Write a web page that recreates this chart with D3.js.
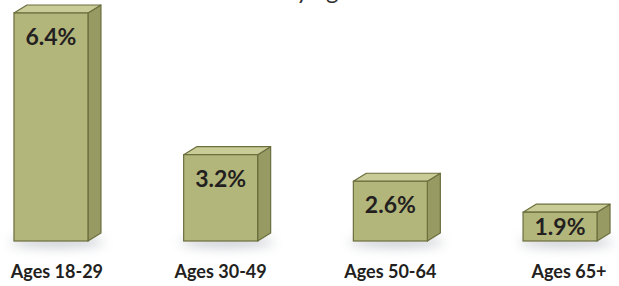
<!DOCTYPE html>
<html>
<head>
<meta charset="utf-8">
<script src="https://cdn.jsdelivr.net/npm/d3@7"></script>
<style>
  body { margin: 0; background: #fff; }
  text { font-family: Lato, "Open Sans", sans-serif; }
</style>
</head>
<body>
<div id="chart"></div>
<script>
var categories = ["Ages 18-29", "Ages 30-49", "Ages 50-64", "Ages 65+"];
var values = [6.4, 3.2, 2.6, 1.9];
var valueLabels = ["6.4%", "3.2%", "2.6%", "1.9%"];
var title = "by age";

var width = 619, height = 286;
var depthX = 13, depthY = 8;

var svg = d3.select('#chart')
  .append('svg')
  .attr('width', width)
  .attr('height', height);

var defs = svg.append('defs');
defs.append('filter')
  .attr('id', 'blur')
  .attr('x', '-50%').attr('y', '-200%')
  .attr('width', '200%').attr('height', '500%')
  .append('feGaussianBlur')
  .attr('stdDeviation', 6);

// title is cropped off in the source, only descenders show
svg.append('text')
  .attr('x', 283)
  .attr('y', -1)
  .attr('font-size', 24)
  .attr('fill', '#333')
  .text(title);

var x = d3.scaleBand()
  .domain(categories)
  .range([-3, 614])
  .paddingInner(0.564)
  .paddingOuter(0.1);

// bars don't start at zero in the original
var y = d3.scaleLinear()
  .domain([1.25, 6.4])
  .range([241, 13]);

var labelShift = [6, 0, 0, 9];

var g = svg.append('g');

var bar = g.selectAll('g.bar')
  .data(values)
  .enter()
  .append('g')
  .attr('class', 'bar');

// soft shadow under each box
bar.append('ellipse')
  .attr('cx', function(d, i) { return x(categories[i]) + x.bandwidth() / 2 + 6; })
  .attr('cy', y.range()[0] + 1)
  .attr('rx', function() { return x.bandwidth() / 2 + 10; })
  .attr('ry', 5)
  .attr('fill', '#9aa0aa')
  .attr('opacity', 0.6)
  .attr('filter', 'url(#blur)');

// side face
bar.append('path')
  .attr('fill', '#979a62')
  .attr('stroke', '#6b6e3d')
  .attr('stroke-width', 1.2)
  .attr('stroke-linejoin', 'round')
  .attr('d', function(d, i) {
    var r = x(categories[i]) + x.bandwidth(), t = y(d), b = y.range()[0];
    return 'M' + r + ',' + t + 'L' + (r + depthX) + ',' + (t - depthY) +
      'L' + (r + depthX) + ',' + (b - depthY) + 'L' + r + ',' + b + 'Z';
  });

// top face
bar.append('path')
  .attr('fill', '#cacc98')
  .attr('stroke', '#6b6e3d')
  .attr('stroke-width', 1.2)
  .attr('stroke-linejoin', 'round')
  .attr('d', function(d, i) {
    var l = x(categories[i]), r = l + x.bandwidth(), t = y(d);
    return 'M' + l + ',' + t + 'L' + (l + depthX) + ',' + (t - depthY) +
      'L' + (r + depthX) + ',' + (t - depthY) + 'L' + r + ',' + t + 'Z';
  });

// front face
bar.append('rect')
  .attr('x', function(d, i) { return x(categories[i]); })
  .attr('y', function(d) { return y(d); })
  .attr('width', x.bandwidth())
  .attr('height', function(d) { return y.range()[0] - y(d); })
  .attr('fill', '#b3b67b')
  .attr('stroke', '#6b6e3d')
  .attr('stroke-width', 1.2);

bar.append('text')
  .attr('x', function(d, i) { return x(categories[i]) + x.bandwidth() / 2; })
  .attr('y', function(d) { return Math.min(y(d) + 32, y.range()[0] - 6); })
  .attr('text-anchor', 'middle')
  .attr('font-size', 23)
  .attr('font-weight', 'bold')
  .attr('fill', '#231f20')
  .text(function(d, i) { return valueLabels[i]; });

g.selectAll('text.cat')
  .data(categories)
  .enter()
  .append('text')
  .attr('class', 'cat')
  .attr('x', function(d, i) { return x(d) + x.bandwidth() / 2 + labelShift[i]; })
  .attr('y', 278)
  .attr('text-anchor', 'middle')
  .attr('font-size', 18)
  .attr('font-weight', 'bold')
  .attr('fill', '#231f20')
  .text(function(d) { return d; });
</script>
</body>
</html>
